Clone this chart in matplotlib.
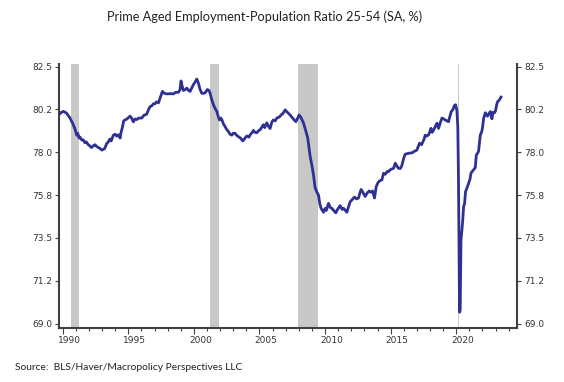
import numpy as np
import matplotlib
matplotlib.use("Agg")
import matplotlib.pyplot as plt
import matplotlib.transforms as mtransforms
from matplotlib.ticker import MultipleLocator, FormatStrFormatter

# ── data (decimal year, ratio %) ────────────────────────────────────────
years = [
    1989.50, 1989.75, 1989.90, 1990.05, 1990.20, 1990.30, 1990.45, 1990.56, 1990.70, 1990.81,
    1990.95, 1991.07, 1991.15, 1991.25, 1991.32, 1991.45, 1991.57, 1991.70, 1991.80, 1991.95,
    1992.05, 1992.20, 1992.35, 1992.46, 1992.60, 1992.72, 1992.85, 1992.97, 1993.10, 1993.20,
    1993.35, 1993.48, 1993.60, 1993.70, 1993.86, 1994.00, 1994.12, 1994.24, 1994.38, 1994.45,
    1994.55, 1994.65, 1994.75, 1994.90, 1995.05, 1995.13, 1995.25, 1995.39, 1995.50, 1995.64,
    1995.80, 1996.03, 1996.20, 1996.40, 1996.55, 1996.66, 1996.80, 1996.92, 1997.04, 1997.15,
    1997.30, 1997.45, 1997.60, 1997.75, 1997.93, 1998.20, 1998.44, 1998.60, 1998.82, 1998.95,
    1999.02, 1999.10, 1999.20, 1999.35, 1999.46, 1999.60, 1999.71, 1999.85, 1999.96, 2000.10,
    2000.22, 2000.34, 2000.45, 2000.60, 2000.75, 2000.85, 2001.03, 2001.15, 2001.24, 2001.35,
    2001.49, 2001.62, 2001.75, 2001.85, 2001.95, 2002.05, 2002.13, 2002.25, 2002.38, 2002.50,
    2002.63, 2002.75, 2002.89, 2003.00, 2003.14, 2003.25, 2003.40, 2003.55, 2003.73, 2003.90,
    2004.04, 2004.20, 2004.29, 2004.45, 2004.54, 2004.65, 2004.80, 2004.95, 2005.05, 2005.20,
    2005.30, 2005.40, 2005.56, 2005.70, 2005.81, 2005.95, 2006.06, 2006.20, 2006.32, 2006.50,
    2006.65, 2006.80, 2006.96, 2007.10, 2007.21, 2007.35, 2007.47, 2007.62, 2007.77, 2007.92,
    2008.02, 2008.15, 2008.35, 2008.50, 2008.68, 2008.86, 2009.00, 2009.12, 2009.24, 2009.38,
    2009.50, 2009.60, 2009.70, 2009.80, 2009.88, 2010.00, 2010.10, 2010.26, 2010.40, 2010.52,
    2010.65, 2010.82, 2010.95, 2011.05, 2011.15, 2011.30, 2011.40, 2011.55, 2011.66, 2011.80,
    2011.91, 2012.05, 2012.24, 2012.40, 2012.55, 2012.65, 2012.75, 2012.88, 2013.06, 2013.20,
    2013.36, 2013.50, 2013.62, 2013.77, 2013.90, 2014.03, 2014.15, 2014.33, 2014.46, 2014.60,
    2014.75, 2014.84, 2015.00, 2015.22, 2015.35, 2015.50, 2015.60, 2015.73, 2015.85, 2016.00,
    2016.11, 2016.36, 2016.62, 2016.80, 2017.00, 2017.10, 2017.20, 2017.35, 2017.46, 2017.55,
    2017.63, 2017.75, 2017.89, 2018.00, 2018.07, 2018.17, 2018.27, 2018.40, 2018.53, 2018.65,
    2018.78, 2018.91, 2019.05, 2019.16, 2019.30, 2019.41, 2019.52, 2019.62, 2019.75, 2019.85,
    2019.95, 2020.05, 2020.12, 2020.17, 2020.25, 2020.30, 2020.36, 2020.43, 2020.50, 2020.56,
    2020.63, 2020.71, 2020.80, 2020.94, 2021.05, 2021.12, 2021.22, 2021.32, 2021.45, 2021.53,
    2021.62, 2021.70, 2021.77, 2021.83, 2021.95, 2022.02, 2022.09, 2022.22, 2022.30, 2022.39,
    2022.50, 2022.60, 2022.66, 2022.72, 2022.80, 2022.92, 2023.00, 2023.08, 2023.15, 2023.28,
    2023.41,
]
epop = [
    79.90, 80.00, 80.10, 80.15, 80.10, 80.05, 79.90, 79.80, 79.60, 79.45,
    79.20, 78.90, 79.00, 78.75, 78.80, 78.65, 78.65, 78.50, 78.55, 78.40,
    78.35, 78.25, 78.35, 78.40, 78.30, 78.25, 78.20, 78.12, 78.15, 78.20,
    78.45, 78.55, 78.70, 78.60, 78.90, 78.95, 78.85, 78.92, 78.75, 79.05,
    79.30, 79.65, 79.70, 79.75, 79.85, 79.90, 79.80, 79.60, 79.75, 79.72,
    79.80, 79.80, 79.95, 80.00, 80.25, 80.40, 80.45, 80.55, 80.55, 80.65,
    80.60, 80.90, 81.20, 81.10, 81.07, 81.08, 81.07, 81.15, 81.15, 81.30,
    81.75, 81.50, 81.25, 81.30, 81.37, 81.25, 81.20, 81.40, 81.55, 81.70,
    81.85, 81.65, 81.35, 81.10, 81.10, 81.12, 81.30, 81.25, 81.10, 80.80,
    80.50, 80.30, 80.15, 79.90, 79.70, 79.80, 79.72, 79.50, 79.35, 79.20,
    79.10, 78.95, 78.90, 79.00, 79.00, 78.90, 78.82, 78.75, 78.60, 78.75,
    78.86, 78.80, 78.92, 79.05, 79.15, 79.05, 79.03, 79.15, 79.18, 79.35,
    79.45, 79.30, 79.55, 79.35, 79.25, 79.60, 79.70, 79.65, 79.80, 79.85,
    79.96, 80.05, 80.23, 80.12, 80.05, 79.95, 79.85, 79.72, 79.61, 79.80,
    79.96, 79.85, 79.55, 79.20, 78.75, 77.80, 77.30, 76.80, 76.15, 75.90,
    75.75, 75.30, 75.05, 74.95, 74.85, 75.05, 74.95, 75.32, 75.10, 75.06,
    74.95, 74.82, 75.00, 75.10, 75.20, 75.00, 75.06, 74.95, 74.85, 75.15,
    75.40, 75.50, 75.65, 75.55, 75.60, 75.85, 76.05, 75.90, 75.68, 75.85,
    75.97, 75.90, 75.97, 75.60, 76.20, 76.40, 76.50, 76.55, 76.90, 76.85,
    77.00, 76.99, 77.10, 77.16, 77.43, 77.25, 77.16, 77.15, 77.30, 77.70,
    77.90, 77.95, 77.97, 78.05, 78.12, 78.30, 78.48, 78.40, 78.55, 78.70,
    78.90, 78.85, 78.92, 79.10, 79.26, 79.05, 79.17, 79.35, 79.53, 79.26,
    79.55, 79.80, 79.75, 79.70, 79.65, 79.61, 79.90, 80.14, 80.25, 80.45,
    80.50, 80.20, 79.30, 76.60, 69.60, 69.70, 73.40, 73.90, 74.50, 75.15,
    75.30, 75.94, 76.10, 76.37, 76.60, 76.90, 77.00, 77.08, 77.20, 77.86,
    77.95, 78.05, 78.50, 78.90, 79.10, 79.40, 79.80, 80.08, 79.95, 79.90,
    80.05, 80.14, 79.95, 79.76, 80.10, 80.08, 80.20, 80.50, 80.66, 80.75,
    80.90,
]

# recessions (NBER), start / end in decimal years
rec_start = [1990.60, 2001.20, 2007.92, 2020.10]
rec_end = [1991.25, 2001.90, 2009.47, 2020.22]

yticks = [69.0, 71.25, 73.5, 75.75, 78.0, 80.25, 82.5]

# ── figure ───────────────────────────────────────────────────────────────
fig = plt.figure(figsize=(5.64, 3.82), dpi=100)
ax = fig.add_axes([59 / 564, 1 - 328 / 382, 458 / 564, 264 / 382])

dark = "#404040"
for s, e in zip(rec_start, rec_end):
    ax.axvspan(s, e, color="#c8c8c8", lw=0, zorder=1)

ax.plot(years, epop, color="#2e3192", lw=2.0, zorder=3, solid_joinstyle="round")

ax.set_xlim(1989.72, 2024.63)
ax.set_ylim(68.77, 82.64)

ax.set_yticks(yticks)
ax.yaxis.set_major_formatter(FormatStrFormatter("%.1f"))
ax.xaxis.set_major_locator(MultipleLocator(5))
ax.xaxis.set_minor_locator(MultipleLocator(1))
ax.xaxis.set_major_formatter(FormatStrFormatter("%d"))

ax.spines["top"].set_visible(False)
for side in ["left", "right", "bottom"]:
    ax.spines[side].set_color(dark)
    ax.spines[side].set_linewidth(1.5)

ax.tick_params(axis="y", which="major", direction="out", length=3, width=0.8,
               color=dark, labelsize=6.5, labelcolor="#333333",
               left=True, right=True, labelleft=True, labelright=True, pad=2)
ax.tick_params(axis="x", which="major", direction="out", length=4.5, width=0.8,
               color=dark, labelsize=6.5, labelcolor="#333333", pad=1.5)
ax.tick_params(axis="x", which="minor", direction="out", length=2.5, width=0.8,
               color=dark)

# year labels sit in the middle of the year, not on the tick
shift = mtransforms.ScaledTranslation(0.065, 0, fig.dpi_scale_trans)
for lab in ax.get_xticklabels():
    lab.set_transform(lab.get_transform() + shift)

fig.text(265 / 564, 1 - 17 / 382,
         "Prime Aged Employment-Population Ratio 25-54 (SA, %)",
         ha="center", va="center", fontsize=9.2, family="Lato", color="#222222")
fig.text(15 / 564, 1 - 367 / 382,
         "Source:  BLS/Haver/Macropolicy Perspectives LLC",
         ha="left", va="center", fontsize=7.4, family="Lato", color="#222222")

fig.savefig("out.png", dpi=100)
